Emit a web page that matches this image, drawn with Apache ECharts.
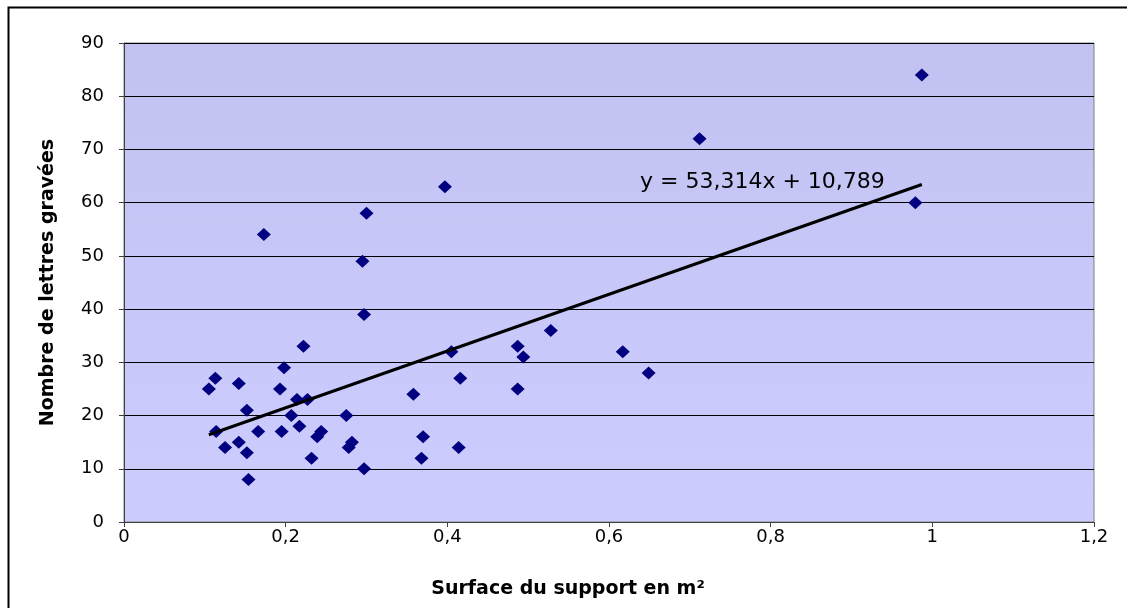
<!DOCTYPE html>
<html>
<head>
<meta charset="utf-8">
<script src="https://cdn.jsdelivr.net/npm/echarts@6/dist/echarts.min.js"></script>
<style>
html,body{margin:0;padding:0;background:#fff;}
#c{width:1127px;height:608px;}
</style>
</head>
<body>
<div id="c"></div>
<script>
// Surface du support (m²)
const surfaces = [
  0.113, 0.105, 0.142, 0.198, 0.193, 0.214, 0.227, 0.152, 0.207, 0.275,
  0.114, 0.166, 0.195, 0.217, 0.244, 0.239, 0.142, 0.125, 0.152, 0.282,
  0.278, 0.232, 0.297, 0.154,
  0.173, 0.295, 0.297, 0.222,
  0.405, 0.487, 0.494, 0.416, 0.358, 0.487, 0.370, 0.414, 0.368, 0.528,
  0.617, 0.649,
  0.397, 0.300, 0.987, 0.712, 0.979
];
// Nombre de lettres gravées
const lettres = [
  27, 25, 26, 29, 25, 23, 23, 21, 20, 20,
  17, 17, 17, 18, 17, 16, 15, 14, 13, 15,
  14, 12, 10, 8,
  54, 49, 39, 33,
  32, 33, 31, 27, 24, 25, 16, 14, 12, 36,
  32, 28,
  63, 58, 84, 72, 60
];
// trend line coefficients (as displayed)
const slope = 53.314;
const intercept = 10.789;
const equationText = 'y = 53,314x + 10,789';
const xTicks = { min: 0, max: 1.2, interval: 0.2 };
const yTicks = { min: 0, max: 90, interval: 10 };
const xTitle = 'Surface du support en m²';
const yTitle = 'Nombre de lettres gravées';

const points = surfaces.map((s, i) => [s, lettres[i]]);
const xMin = Math.min(...surfaces), xMax = Math.max(...surfaces);
const trend = [[xMin, slope * xMin + intercept], [xMax, slope * xMax + intercept]];

const FONT = 'DejaVu Sans';
const chart = echarts.init(document.getElementById('c'), null, { renderer: 'canvas' });
chart.setOption({
  animation: false,
  backgroundColor: '#fff',
  grid: {
    left: 124, right: 33, top: 43, bottom: 86,
    show: true,
    borderColor: '#808080', borderWidth: 1,
    backgroundColor: {
      type: 'linear', x: 0, y: 0, x2: 0, y2: 1,
      colorStops: [{ offset: 0, color: '#C2C2F2' }, { offset: 1, color: '#CCCCFF' }]
    }
  },
  xAxis: {
    type: 'value', min: xTicks.min, max: xTicks.max, interval: xTicks.interval,
    name: xTitle, nameLocation: 'middle', nameGap: 58,
    nameTextStyle: { fontFamily: FONT, fontSize: 19, fontWeight: 'bold', color: '#000', padding: [0, 82, 0, 0] },
    axisLine: { show: true, lineStyle: { color: '#404040', width: 1 } },
    axisTick: { show: true, length: 5, inside: false, lineStyle: { color: '#404040' } },
    axisLabel: {
      margin: 6, fontFamily: FONT, fontSize: 18, color: '#000',
      formatter: v => String(+v.toFixed(1)).replace('.', ',')
    },
    splitLine: { show: false }
  },
  yAxis: {
    type: 'value', min: yTicks.min, max: yTicks.max, interval: yTicks.interval,
    name: yTitle, nameLocation: 'middle', nameGap: 66, nameRotate: 90,
    nameTextStyle: { fontFamily: FONT, fontSize: 19, fontWeight: 'bold', color: '#000' },
    axisLine: { show: true, lineStyle: { color: '#404040', width: 1 } },
    axisTick: { show: true, length: 5, inside: false, lineStyle: { color: '#404040' } },
    axisLabel: { margin: 20, fontFamily: FONT, fontSize: 18, color: '#000' },
    splitLine: { show: true, lineStyle: { color: '#000', width: 1 } }
  },
  series: [
    {
      type: 'scatter', data: points, symbol: 'diamond', symbolSize: [14, 13],
      itemStyle: { color: '#000080', opacity: 1 }, z: 2
    },
    {
      type: 'line', data: trend, symbol: 'none', silent: true,
      lineStyle: { color: '#000', width: 3 }, z: 3
    }
  ],
  graphic: [
    {
      type: 'rect', left: 6, top: 5, z: 100, silent: true,
      shape: { width: 1200, height: 700 },
      style: { fill: 'none', stroke: '#000', lineWidth: 2 }
    },
    {
      type: 'text', left: 640, top: 171, z: 50,
      style: { text: equationText, font: '22px "DejaVu Sans"', fill: '#000' }
    }
  ]
});
</script>
</body>
</html>
